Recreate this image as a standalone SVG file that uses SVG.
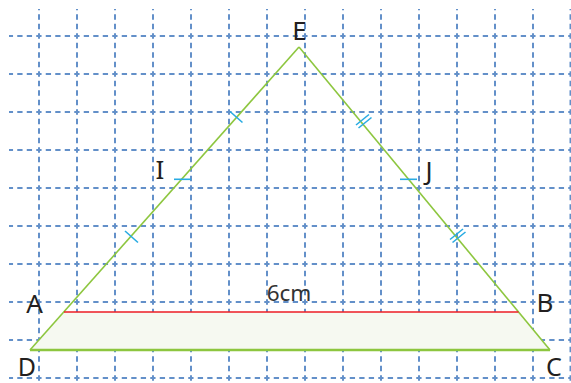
<svg xmlns="http://www.w3.org/2000/svg" width="571" height="383" viewBox="0 0 571 383">
<style>
.gh{stroke:#6390c9;stroke-width:2;stroke-dasharray:5.3 4.2;stroke-dashoffset:1.25;fill:none}
.gv{stroke:#6390c9;stroke-width:2;stroke-dasharray:5.3 4.2;stroke-dashoffset:4.15;fill:none}
.side{stroke:#8dc63f;stroke-width:1.6;fill:none}
.base{stroke:#8dc63f;stroke-width:2.6;fill:none}
.tick{stroke:#29abe2;stroke-width:1.6;fill:none}
.lbl{font-family:"Noto Sans","Liberation Sans",sans-serif;font-size:26px;fill:#231f20;text-anchor:middle}
.lbs{font-family:"Noto Sans","Liberation Sans",sans-serif;font-size:25px;fill:#231f20;text-anchor:middle}
.dim{font-family:"Noto Sans","Liberation Sans",sans-serif;font-size:22.5px;fill:#333;text-anchor:middle}
</style>
<rect width="571" height="383" fill="#fff"/>
<g id="grid">
<path class="gh" d="M9 36H571M9 74H571M9 112H571M9 150H571M9 188H571M9 226H571M9 264H571M9 302H571M9 340H571M9 378H571"/>
<path class="gv" d="M39 9V383M77 9V383M115 9V383M153 9V383M191 9V383M229 9V383M267 9V383M305 9V383M343 9V383M381 9V383M419 9V383M457 9V383M495 9V383M533 9V383M570.5 9V383"/>
</g>
<g id="band">
<polygon points="64,312 518.5,312 550,350 30,350" fill="#f6f9f1"/>
</g>
<g id="connectors">
<line class="side" x1="30" y1="350" x2="299" y2="47"/>
<line class="side" x1="550" y1="350" x2="299" y2="47"/>
<line class="base" x1="30" y1="350" x2="550" y2="350"/>
<line x1="64" y1="312" x2="518.5" y2="312" stroke="#ed1c24" stroke-width="1.6"/>
</g>
<g id="ticks">
<line class="tick" x1="230" y1="111.5" x2="242.5" y2="122.5"/>
<line class="tick" x1="125" y1="231" x2="138" y2="242.5"/>
<line class="tick" x1="174" y1="179.3" x2="191" y2="179.3"/>
<line class="tick" x1="400" y1="179.3" x2="417" y2="179.3"/>
<line class="tick" x1="356" y1="125" x2="369" y2="114.5"/>
<line class="tick" x1="358.5" y1="128" x2="371.5" y2="117.5"/>
<line class="tick" x1="450" y1="239.5" x2="463" y2="229"/>
<line class="tick" x1="452.5" y1="242.5" x2="465.5" y2="232"/>
</g>
<g id="E"><text class="lbl" x="299.5" y="40">E</text></g>
<g id="A"><text class="lbl" x="34.5" y="313">A</text></g>
<g id="B"><text class="lbl" x="545" y="312">B</text></g>
<g id="D"><text class="lbs" x="27" y="376">D</text></g>
<g id="C"><text class="lbs" x="554" y="376">C</text></g>
<g id="I"><text class="lbl" x="160" y="179">I</text></g>
<g id="J"><text class="lbl" x="429" y="180">J</text></g>
<g id="len"><text class="dim" x="289" y="301">6cm</text></g>
</svg>
